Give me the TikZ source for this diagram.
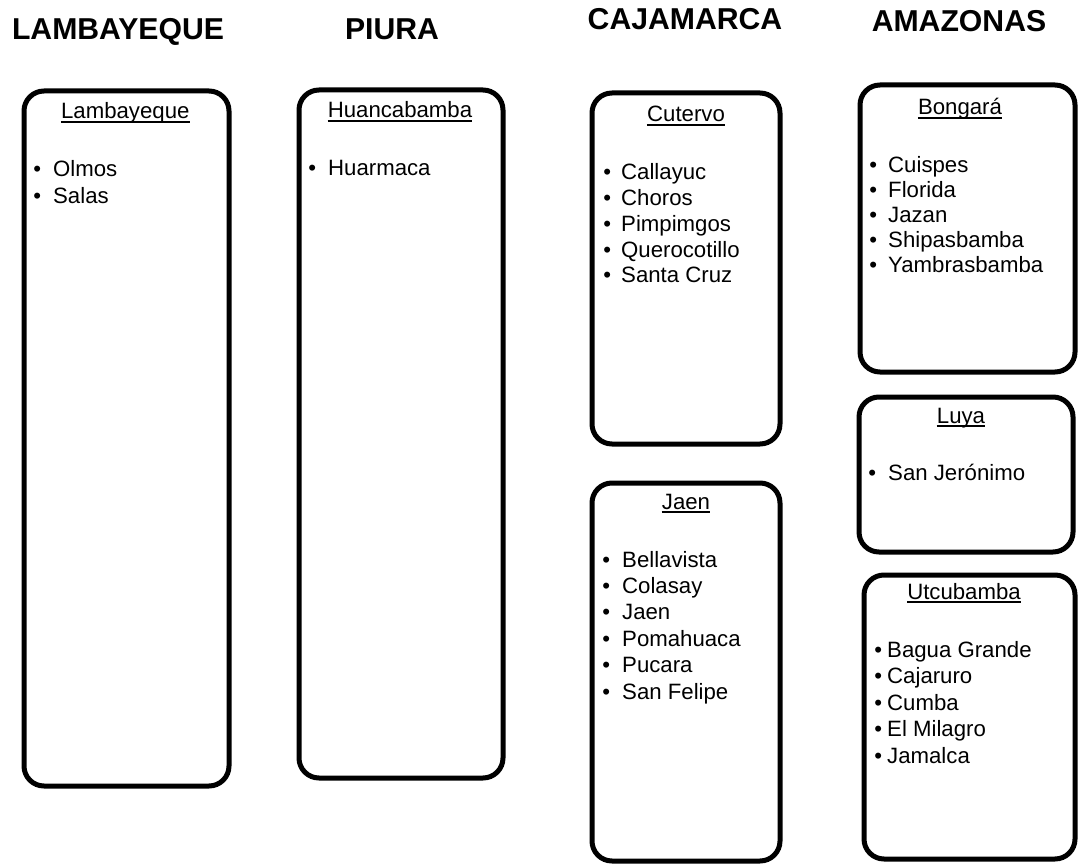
\documentclass[tikz,border=0pt]{standalone}
\usepackage{fontspec}
\setmainfont{Liberation Sans}
\begin{document}
\begin{tikzpicture}[x=1pt,y=-1pt,
  frame/.style={draw=black, line width=5pt, rounded corners=20pt,
    inner sep=0pt, outer sep=0pt},
  dept/.style={font=\fontsize{30.2}{34}\selectfont\bfseries, inner sep=0pt, anchor=base},
  head/.style={font=\fontsize{22.2}{26}\selectfont, inner sep=0pt, anchor=base},
  item/.style={font=\fontsize{22.2}{26}\selectfont, inner sep=0pt, anchor=base west},
  uline/.style={line width=1.8pt}]
\useasboundingbox[fill=white] (0,0) rectangle (1078,866);

% department titles
\node[dept] (tLam) at (118,40) {LAMBAYEQUE};
\node[dept] (tPiu) at (392,40) {PIURA};
\node[dept] (tCaj) at (685,30) {CAJAMARCA};
\node[dept] (tAma) at (959,31.5) {AMAZONAS};

% province frames
\node[frame, minimum width=205pt, minimum height=695pt] (lam) at (126.5,438.5) {};
\node[frame, minimum width=204pt, minimum height=688pt] (piu) at (401,434) {};
\node[frame, minimum width=188pt, minimum height=351pt] (cut) at (686,268.5) {};
\node[frame, minimum width=188pt, minimum height=378pt] (jae) at (686,672) {};
\node[frame, minimum width=215pt, minimum height=287pt] (bon) at (967.5,228.5) {};
\node[frame, minimum width=214pt, minimum height=155pt] (luy) at (966,474.5) {};
\node[frame, minimum width=211pt, minimum height=284pt] (utc) at (969.5,717) {};

% province headings, underlined
\node[head] (hLam) at (125.3,119) {Lambayeque};
\node[head] (hPiu) at (400,118) {Huancabamba};
\node[head] (hCut) at (686,122) {Cutervo};
\node[head] (hJae) at (686,509) {Jaen};
\node[head] (hBon) at (960,115) {Bongará};
\node[head] (hLuy) at (961,423) {Luya};
\node[head] (hUtc) at (964,599) {Utcubamba};
\foreach \h in {hLam,hPiu,hCut,hJae,hBon,hLuy,hUtc}
  \draw[uline] ([yshift=-3pt]\h.base west) -- ([yshift=-3pt]\h.base east);

% district lists: #1 prefix, #2 text x, #3 first baseline, #4 spacing, #5 bullet gap, #6 names
\newcommand{\districts}[6]{%
  \foreach \t [count=\i from 0] in {#6}
    \node[item] (#1-\i) at (#2, #3+\i*#4) {\llap{\textbullet\hspace{#5}}\t};}

\districts{dLam}{53}{177}{27}{12pt}{Olmos,Salas}
\districts{dPiu}{328}{176}{26}{12pt}{Huarmaca}
\districts{dCut}{621}{180}{25.7}{10pt}{Callayuc,Choros,Pimpimgos,Querocotillo,Santa Cruz}
\districts{dJae}{622}{567}{26.4}{12pt}{Bellavista,Colasay,Jaen,Pomahuaca,Pucara,San Felipe}
\districts{dBon}{888}{173}{25}{11pt}{Cuispes,Florida,Jazan,Shipasbamba,Yambrasbamba}
\districts{dLuy}{888}{480}{26}{12pt}{San Jerónimo}
\districts{dUtc}{887}{657}{26.5}{5pt}{Bagua Grande,Cajaruro,Cumba,El Milagro,Jamalca}
\end{tikzpicture}
\end{document}
